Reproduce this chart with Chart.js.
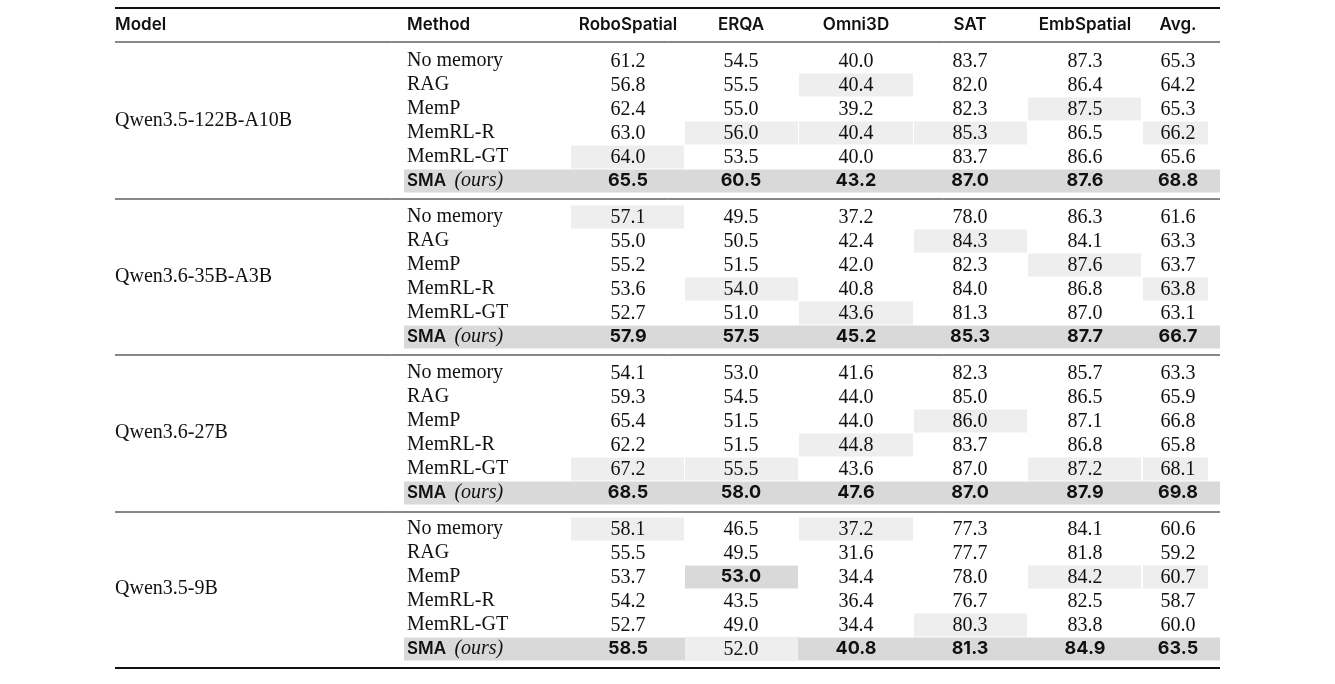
<!DOCTYPE html>
<html>
<head>
<meta charset="utf-8">
<script src="https://cdn.jsdelivr.net/npm/chart.js@4"></script>
<style>
  html, body { margin: 0; padding: 0; background: #fff; }
  #wrap { width: 1335px; height: 684px; }
</style>
</head>
<body>
<div id="wrap"><canvas id="table"></canvas></div>
<script>
// table data
const models = ['Qwen3.5-122B-A10B', 'Qwen3.6-35B-A3B', 'Qwen3.6-27B', 'Qwen3.5-9B'];
const methods = ['No memory', 'RAG', 'MemP', 'MemRL-R', 'MemRL-GT', 'SMA'];
const benchmarks = ['RoboSpatial', 'ERQA', 'Omni3D', 'SAT', 'EmbSpatial', 'Avg.'];

const qwen122 = [
  [61.2, 54.5, 40.0, 83.7, 87.3, 65.3],
  [56.8, 55.5, 40.4, 82.0, 86.4, 64.2],
  [62.4, 55.0, 39.2, 82.3, 87.5, 65.3],
  [63.0, 56.0, 40.4, 85.3, 86.5, 66.2],
  [64.0, 53.5, 40.0, 83.7, 86.6, 65.6],
  [65.5, 60.5, 43.2, 87.0, 87.6, 68.8]
];
const qwen35 = [
  [57.1, 49.5, 37.2, 78.0, 86.3, 61.6],
  [55.0, 50.5, 42.4, 84.3, 84.1, 63.3],
  [55.2, 51.5, 42.0, 82.3, 87.6, 63.7],
  [53.6, 54.0, 40.8, 84.0, 86.8, 63.8],
  [52.7, 51.0, 43.6, 81.3, 87.0, 63.1],
  [57.9, 57.5, 45.2, 85.3, 87.7, 66.7]
];
const qwen27 = [
  [54.1, 53.0, 41.6, 82.3, 85.7, 63.3],
  [59.3, 54.5, 44.0, 85.0, 86.5, 65.9],
  [65.4, 51.5, 44.0, 86.0, 87.1, 66.8],
  [62.2, 51.5, 44.8, 83.7, 86.8, 65.8],
  [67.2, 55.5, 43.6, 87.0, 87.2, 68.1],
  [68.5, 58.0, 47.6, 87.0, 87.9, 69.8]
];
const qwen9 = [
  [58.1, 46.5, 37.2, 77.3, 84.1, 60.6],
  [55.5, 49.5, 31.6, 77.7, 81.8, 59.2],
  [53.7, 53.0, 34.4, 78.0, 84.2, 60.7],
  [54.2, 43.5, 36.4, 76.7, 82.5, 58.7],
  [52.7, 49.0, 34.4, 80.3, 83.8, 60.0],
  [58.5, 52.0, 40.8, 81.3, 84.9, 63.5]
];
const groups = [qwen122, qwen35, qwen27, qwen9];

// best (b) / second-best (s) marks: [group, row, col]
const bestCells = [[3, 2, 1]];
const secondCells = [
  [0, 1, 2], [0, 2, 4], [0, 3, 1], [0, 3, 2], [0, 3, 3], [0, 3, 5], [0, 4, 0],
  [1, 0, 0], [1, 1, 3], [1, 2, 4], [1, 3, 1], [1, 3, 5], [1, 4, 2],
  [2, 2, 3], [2, 3, 2], [2, 4, 0], [2, 4, 1], [2, 4, 4], [2, 4, 5],
  [3, 0, 0], [3, 0, 2], [3, 2, 4], [3, 2, 5], [3, 4, 3], [3, 5, 1]
];
// in the last group, SMA ERQA is not the best
const notBold = [[3, 5, 1]];

// layout (pixel units on the hidden scales)
const colCenters = [628, 741, 856, 970, 1085, 1178];
const colBoxes = [[571, 684], [685, 798], [799, 913], [914, 1027], [1028, 1141], [1143, 1208]];
const tableLeft = 115, tableRight = 1220, methodX = 407;

function rowY(g, i) { return 61 + 156 * g + 24 * i; }
function has(list, g, i, c) { return list.some(t => t[0] === g && t[1] === i && t[2] === c); }

const points = [];
groups.forEach((rows, g) => rows.forEach((r, i) => r.forEach((v, c) => {
  points.push({ x: colCenters[c], y: rowY(g, i), v: v, g: g, i: i, c: c });
})));

const SERIF = '"Liberation Serif", "DejaVu Serif", serif';
const SANS = 'Inter, "Noto Sans", sans-serif';

const tablePlugin = {
  id: 'tablePlugin',
  afterDatasetsDraw(chart) {
    const ctx = chart.ctx;
    const xs = chart.scales.x, ys = chart.scales.y;
    const X = v => xs.getPixelForValue(v);
    const Y = v => ys.getPixelForValue(v);
    ctx.save();

    // shading
    groups.forEach((rows, g) => {
      ctx.fillStyle = '#d9d9d9';
      ctx.fillRect(X(404), Y(rowY(g, 5) - 11.5), X(tableRight) - X(404), 23);
    });
    secondCells.forEach(([g, i, c]) => {
      ctx.fillStyle = '#eeeeee';
      ctx.fillRect(X(colBoxes[c][0]), Y(rowY(g, i) - 11.5), X(colBoxes[c][1]) - X(colBoxes[c][0]), 23);
    });
    bestCells.forEach(([g, i, c]) => {
      ctx.fillStyle = '#d9d9d9';
      ctx.fillRect(X(colBoxes[c][0]), Y(rowY(g, i) - 11.5), X(colBoxes[c][1]) - X(colBoxes[c][0]), 23);
    });

    // rules
    ctx.strokeStyle = '#111';
    const rule = (y, w) => {
      ctx.lineWidth = w;
      ctx.beginPath(); ctx.moveTo(X(tableLeft), Y(y)); ctx.lineTo(X(tableRight), Y(y)); ctx.stroke();
    };
    rule(8, 2); rule(42, 1); rule(199, 1); rule(355, 1); rule(512, 1); rule(668, 2);

    // header
    ctx.fillStyle = '#111';
    ctx.textBaseline = 'middle';
    ctx.font = '600 17px ' + SANS;
    ctx.textAlign = 'left';
    ctx.fillText('Model', X(tableLeft), Y(25));
    ctx.fillText('Method', X(methodX), Y(25));
    ctx.textAlign = 'center';
    benchmarks.forEach((b, c) => ctx.fillText(b, X(colCenters[c]), Y(25)));

    // model and method labels
    groups.forEach((rows, g) => {
      ctx.textAlign = 'left';
      ctx.font = '20px ' + SERIF;
      ctx.fillText(models[g], X(tableLeft), Y(rowY(g, 2) + 12));
      methods.forEach((m, i) => {
        if (m === 'SMA') {
          ctx.font = '600 17px ' + SANS;
          ctx.fillText('SMA', X(methodX), Y(rowY(g, i)));
          const w = ctx.measureText('SMA ').width;
          ctx.font = 'italic 20px ' + SERIF;
          ctx.fillText('(ours)', X(methodX) + w + 4, Y(rowY(g, i)));
        } else {
          ctx.font = '20px ' + SERIF;
          ctx.fillText(m, X(methodX), Y(rowY(g, i)));
        }
      });
    });

    // values
    ctx.textAlign = 'center';
    const data = chart.data.datasets[0].data;
    data.forEach(p => {
      const bold = (p.i === 5 && !has(notBold, p.g, p.i, p.c)) || has(bestCells, p.g, p.i, p.c);
      ctx.font = bold ? '700 18px ' + SANS : '20px ' + SERIF;
      ctx.fillText(p.v.toFixed(1), X(p.x), Y(p.y) + (bold ? 0 : 1));
    });
    ctx.restore();
  }
};

new Chart(document.getElementById('table'), {
  type: 'scatter',
  data: { datasets: [{ data: points, pointRadius: 0, pointHoverRadius: 0 }] },
  options: {
    responsive: true,
    maintainAspectRatio: false,
    animation: false,
    layout: { padding: 0 },
    plugins: { legend: { display: false }, tooltip: { enabled: false } },
    scales: {
      x: { type: 'linear', min: 0, max: 1335, display: false },
      y: { type: 'linear', min: 0, max: 684, reverse: true, display: false }
    }
  },
  plugins: [tablePlugin]
});
</script>
</body>
</html>
